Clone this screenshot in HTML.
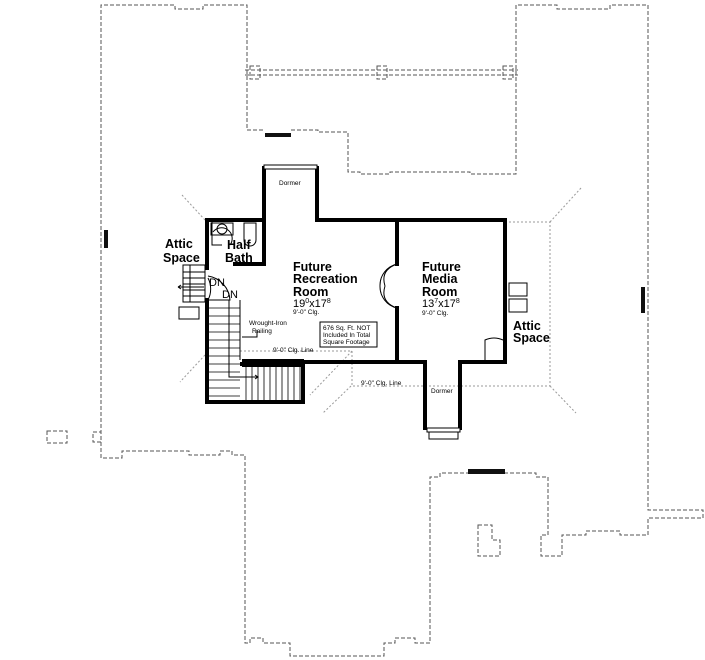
<!DOCTYPE html>
<html><head><meta charset="utf-8"><style>
html,body{margin:0;padding:0;background:#fff;}
svg{display:block;font-family:"Liberation Sans",sans-serif;}
</style></head><body>
<svg width="705" height="660" viewBox="0 0 705 660" xmlns="http://www.w3.org/2000/svg">
<g fill="none" stroke="#555" stroke-width="1" stroke-dasharray="4,2">
<path d="M263,130 H247 V5 H203 V9 H175 V5 H101 V458 H122 V451 H189 V455 H220 V451 H232 V455 H245 V643 H250 V638 H263 V643 H290 V656 H384 V643 H395 V638 H415 V643 H430 V477 H440 V473 H468"/>
<path d="M291,130 H318 V132 H348 V172 H360 V174 H390 V172 H470 V174 H516 V5 H557 V9 H610 V5 H648 V510 H703 V518 H648 V535 H620 V531 H586 V535 H562 V556 H541 V535 H548 V477 H536 V473 H505"/>
<path d="M245,70 H518 M245,75 H518"/>
<rect x="250" y="66" width="10" height="13"/>
<rect x="377" y="66" width="10" height="13"/>
<rect x="503" y="66" width="10" height="13"/>
<rect x="47" y="431" width="20" height="12"/>
<rect x="93" y="432" width="8" height="10"/>
<path d="M478,525 H492 V540 H500 V556 H478 Z"/>
</g>
<g fill="#111">
<rect x="265" y="133" width="26" height="4"/>
<rect x="104" y="230" width="4" height="18"/>
<rect x="641" y="287" width="4" height="26"/>
<rect x="468" y="469" width="37" height="5"/>
</g>
<g fill="none" stroke="#999" stroke-width="1" stroke-dasharray="2,2">
<path d="M182,195 L205,220 M581,188 L550,222 M505,222 H550 V386 H352 V350 M550,386 L576,413 M351,386 L323,413 M240,351 H352 L310,395 M205,355 L180,382"/>
</g>
<g fill="none" stroke="#000" stroke-width="4" stroke-linecap="square">
<path d="M264,220 V168 M317,168 V220 H505 V362 H488"/>
<path d="M505,362 H460 V428 M425,428 V362 H300"/>
<path d="M207,220 H264 V264 H235"/>
<path d="M207,220 V268 M207,300 V402 H303 V364 H242"/>
<path d="M397,220 V264 M397,308 V362"/>
</g>
<rect x="242" y="359" width="62" height="8" fill="#000"/>
<rect x="264" y="165" width="53" height="4" fill="#fff" stroke="#000"/>
<rect x="427" y="428" width="33" height="4" fill="#fff" stroke="#000"/>
<rect x="429" y="432" width="29" height="7" fill="none" stroke="#000"/>
<g fill="none" stroke="#000" stroke-width="1">
<path d="M397,264 A22,22 0 0 0 380,286 A22,22 0 0 0 397,308"/>
<path d="M397,264 Q380,270 385,286 M397,308 Q380,302 385,286"/>
<path d="M485,362 V340 A22,22 0 0 1 503,340"/>
<path d="M208,278 A24,24 0 0 1 208,300 M208,276 A26,26 0 0 1 230,300 L208,300"/>
<path d="M212,222 V245 H222 M213,232 A10,10 0 0 1 230,245"/>
<rect x="211" y="223" width="22" height="12"/>
<circle cx="222" cy="229" r="5"/>
<path d="M244,223 H256 V240 A6,6 0 0 1 244,240 Z"/>
<rect x="183" y="265" width="22" height="37"/>
<path d="M183,272 H205 M183,278 H205 M183,284 H205 M183,290 H205 M183,296 H205 M190,265 V302"/>
<path d="M178,287 H204 M178,287 l3,-2 M178,287 l3,2"/>
<rect x="179" y="307" width="20" height="12"/>
<path d="M240,300 V360"/>
<g stroke-width="0.8">
<path d="M209,308 H240 M209,316 H240 M209,324 H240 M209,332 H240 M209,340 H240 M209,348 H240 M209,356 H240 M209,364 H240 M209,372 H240 M209,380 H240 M209,388 H240 M209,396 H240"/>
<path d="M246,367 V401 M252,367 V401 M258,367 V401 M264,367 V401 M270,367 V401 M276,367 V401 M282,367 V401 M288,367 V401 M294,367 V401 M300,367 V401"/>
</g>
<path d="M229,300 V377 H258 M255,375 l3,2 l-3,2"/>
<path d="M257,330 V337 H242"/>
<rect x="320" y="322" width="57" height="25"/>
<rect x="509" y="283" width="18" height="13"/>
<rect x="509" y="299" width="18" height="13"/>
</g>
<g fill="#000" font-weight="bold" font-size="12.5">
<text x="165" y="248">Attic</text><text x="163" y="262">Space</text>
<text x="227" y="249">Half</text><text x="225" y="262">Bath</text>
<text x="293" y="271">Future</text><text x="293" y="283">Recreation</text><text x="293" y="296">Room</text>
<text x="422" y="271">Future</text><text x="422" y="283">Media</text><text x="422" y="296">Room</text>
<text x="513" y="330">Attic</text><text x="513" y="342">Space</text>
</g>
<g fill="#000" font-size="11">
<text x="293" y="307">19<tspan font-size="7" dy="-4">0</tspan><tspan dy="4">x17</tspan><tspan font-size="7" dy="-4">8</tspan></text>
<text x="422" y="307">13<tspan font-size="7" dy="-4">7</tspan><tspan dy="4">x17</tspan><tspan font-size="7" dy="-4">8</tspan></text>
<text x="209" y="286">DN</text><text x="222" y="298">DN</text>
</g>
<g fill="#000" font-size="6.5">
<text x="293" y="314">9'-0" Clg.</text>
<text x="422" y="315">9'-0" Clg.</text>
<text x="279" y="185">Dormer</text>
<text x="431" y="393">Dormer</text>
<text x="249" y="325">Wrought-Iron</text><text x="252" y="333">Railing</text>
<text x="273" y="352">9'-0" Clg. Line</text>
<text x="361" y="385">9'-0" Clg. Line</text>
<text x="323" y="330">676 Sq. Ft. NOT</text>
<text x="323" y="337">Included In Total</text>
<text x="323" y="344">Square Footage</text>
</g>
</svg>
</body></html>
